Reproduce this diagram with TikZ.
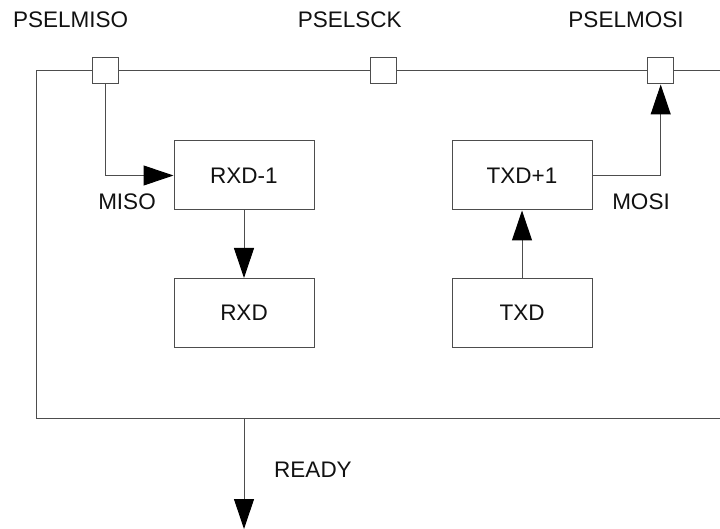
\documentclass[tikz,border=0pt]{standalone}
\usepackage{fontspec}
\setmainfont{Liberation Sans}
\usetikzlibrary{arrows.meta}
\definecolor{Wire}{HTML}{4D4D4D}
\definecolor{TextDark}{HTML}{111111}
\begin{document}
\begin{tikzpicture}[x=1pt,y=-1pt,every node/.style={font=\fontsize{22.5}{27}\selectfont,text=TextDark},block/.style={draw=Wire,line width=1pt,fill=white,minimum width=140pt,minimum height=69pt,inner sep=0pt},port/.style={draw=Wire,line width=1pt,fill=white,minimum size=26pt,inner sep=0pt},wire/.style={draw=Wire,line width=1pt},flow/.style={wire,-{Triangle[length=30pt,width=20pt,color=black]}},tag/.style={inner sep=0pt}]
\fill[white] (0,0) rectangle (720,529); \useasboundingbox (0,0) rectangle (720,529);
% outer frame, open to the right
\draw[wire] (720,71) -- (36,71) -- (36,418) -- (720,418);
\node[port](pmiso) at (105.7,71){};\node[port](psck) at (383.5,71){};\node[port](pmosi) at (660.7,71){};
\node[tag](tmiso) at (70.7,20){PSELMISO};\node[tag](tsck) at (349.7,20){PSELSCK};\node[tag](tmosi) at (626,20){PSELMOSI};
\node[block](rxdm) at (244,175.5){RXD-1};\node[block](rxd) at (244,313){RXD};
\node[block](txdp) at (522,175.5){TXD+1};\node[block](txd) at (522,313){TXD};
\draw[flow](pmiso.south) |- (rxdm.west);\node[tag](lmiso) at (127,202){MISO};
\draw[flow](txdp.east) -| (pmosi.south);\node[tag](lmosi) at (641,202){MOSI};
\draw[flow](rxdm.south) -- (rxd.north);
\draw[flow](txd.north) -- (txdp.south);
% ready output
\coordinate (rdytop) at (244,418);\coordinate (rdyend) at (244,529);
\draw[flow](rdytop) -- (rdyend);\node[tag](lready) at (313,470){READY};
\end{tikzpicture}
\end{document}
